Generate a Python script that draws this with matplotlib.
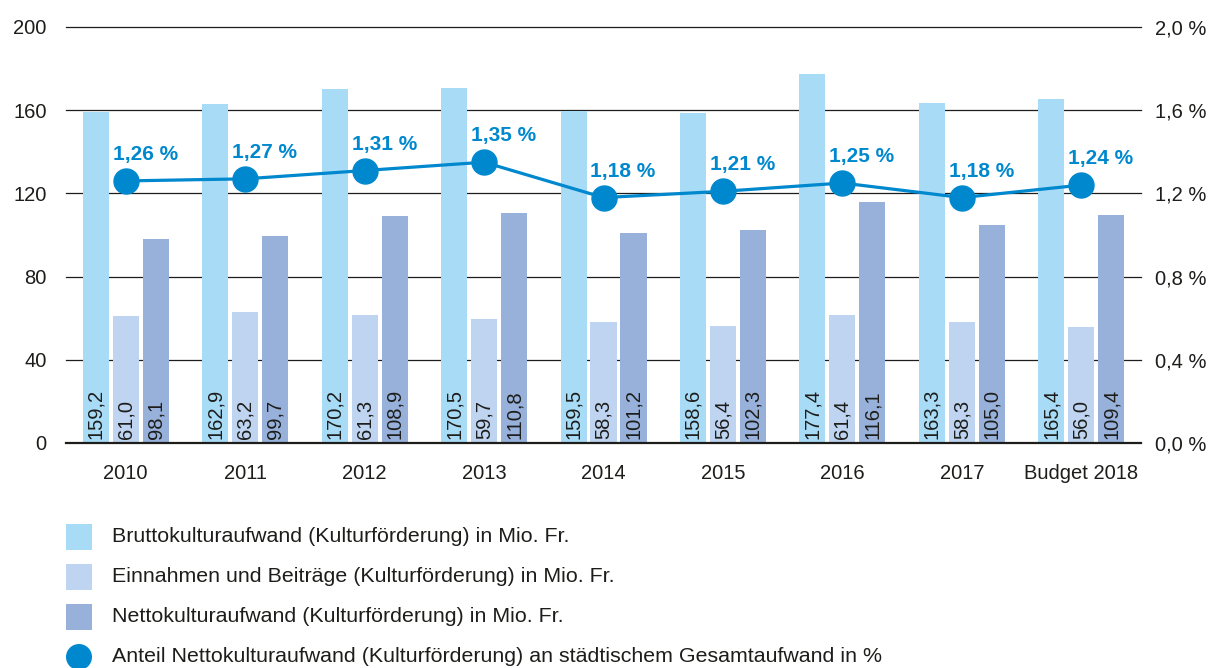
import matplotlib
matplotlib.use("Agg")
import matplotlib.pyplot as plt
from matplotlib.patches import Rectangle, Circle
from matplotlib.transforms import offset_copy
import numpy as np

plt.rcParams['font.family'] = ['Liberation Sans', 'DejaVu Sans']

categories = ["2010", "2011", "2012", "2013", "2014", "2015", "2016", "2017", "Budget 2018"]
brutto = [159.2, 162.9, 170.2, 170.5, 159.5, 158.6, 177.4, 163.3, 165.4]
einnahmen = [61.0, 63.2, 61.3, 59.7, 58.3, 56.4, 61.4, 58.3, 56.0]
netto = [98.1, 99.7, 108.9, 110.8, 101.2, 102.3, 116.1, 105.0, 109.4]
anteil = [1.26, 1.27, 1.31, 1.35, 1.18, 1.21, 1.25, 1.18, 1.24]
left_ticks = [0, 40, 80, 120, 160, 200]
right_ticks = [0.0, 0.4, 0.8, 1.2, 1.6, 2.0]
legend_labels = [
    "Bruttokulturaufwand (Kulturförderung) in Mio. Fr.",
    "Einnahmen und Beiträge (Kulturförderung) in Mio. Fr.",
    "Nettokulturaufwand (Kulturförderung) in Mio. Fr.",
    "Anteil Nettokulturaufwand (Kulturförderung) an städtischem Gesamtaufwand in %",
]

c_brutto = "#A8DBF6"
c_einn = "#BED4F0"
c_netto = "#97B1DB"
c_line = "#0088CE"
c_text = "#1d1d1b"
FS = 14.5

W, H = 1209, 668
fig = plt.figure(figsize=(W / 100, H / 100), dpi=100)
ax = fig.add_axes([66 / W, 1 - 443 / H, (1141 - 66) / W, (443 - 27) / H])

x = np.arange(len(categories))
bw = 0.218
off = 0.251
series = [(brutto, c_brutto, -off), (einnahmen, c_einn, 0.0), (netto, c_netto, off)]
for vals, col, dx in series:
    ax.bar(x + dx, vals, width=bw, color=col, zorder=2)
    for xi, v in zip(x, vals):
        t = offset_copy(ax.transData, fig=fig, x=0, y=4, units='dots')
        ax.text(xi + dx, 0, f"{v:.1f}".replace(".", ","), rotation=90,
                ha='center', va='bottom', fontsize=FS, color=c_text,
                transform=t, zorder=3)

ax.set_xlim(-0.5, len(categories) - 0.5)
ax.set_ylim(0, 200)
ax.set_yticks(left_ticks)
ax.set_yticklabels([str(v) for v in left_ticks])
for v in left_ticks[1:]:
    ax.axhline(v, color="#1d1d1b", lw=0.9, zorder=1, clip_on=False)
ax.axhline(0, color="#1d1d1b", lw=1.6, zorder=4, clip_on=False)
for s in ax.spines.values():
    s.set_visible(False)
ax.set_xticks(x)
ax.set_xticklabels(categories)
ax.tick_params(axis='both', length=0, labelsize=FS, colors=c_text)
ax.tick_params(axis='y', pad=14)
ax.tick_params(axis='x', pad=15)

ax2 = ax.twinx()
ax2.set_ylim(0, 2.0)
ax2.set_yticks(right_ticks)
ax2.set_yticklabels([f"{v:.1f} %".replace(".", ",") for v in right_ticks])
for s in ax2.spines.values():
    s.set_visible(False)
ax2.tick_params(axis='y', length=0, labelsize=FS, colors=c_text, pad=10)
ax2.plot(x, anteil, color=c_line, lw=2.3, marker='o', markersize=18,
         markerfacecolor=c_line, markeredgecolor=c_line, zorder=5)
for xi, v in zip(x, anteil):
    t = offset_copy(ax2.transData, fig=fig, x=-13, y=21, units='dots')
    ax2.text(xi, v, f"{v:.2f} %".replace(".", ","), ha='left', va='baseline',
             fontsize=15, fontweight='bold', color=c_line, transform=t)

# legend
rows_y = [537, 577, 617, 657]
for i, (lab, yy) in enumerate(zip(legend_labels, rows_y)):
    if i < 3:
        col = [c_brutto, c_einn, c_netto][i]
        fig.add_artist(Rectangle((66 / W, 1 - (yy + 13) / H), 26 / W, 26 / H,
                                 transform=fig.transFigure, color=col, lw=0))
    else:
        fig.add_artist(Circle((79, H - yy), 13, transform=None, color=c_line, lw=0))
    fig.text(112 / W, 1 - yy / H, lab, ha='left', va='center', fontsize=15.4, color=c_text)

fig.savefig("out.png", dpi=100)
